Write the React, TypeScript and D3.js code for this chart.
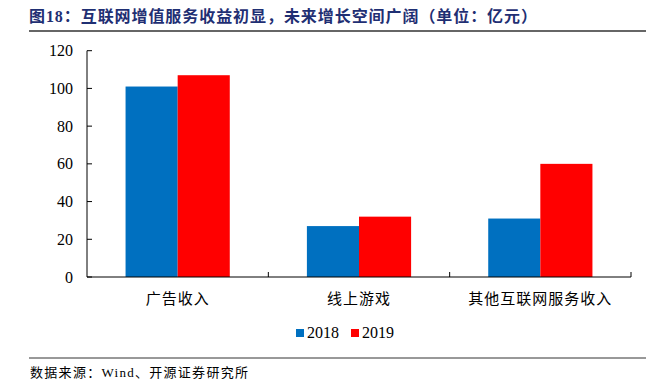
import React from "react";
import * as d3 from "d3";

const categories = ["广告收入", "线上游戏", "其他互联网服务收入"];
const series2018 = [101, 27, 31];
const series2019 = [107, 32, 60];
const seriesNames = ["2018", "2019"];
const seriesColors = ["#0070C0", "#FF0000"];
const yTicks = [0, 20, 40, 60, 80, 100, 120];
const title = "图18：互联网增值服务收益初显，未来增长空间广阔（单位：亿元）";
const source = "数据来源：Wind、开源证券研究所";

const W = 657;
const H = 389;
const serif = "'Liberation Serif', 'Times New Roman', serif";
const cjk = "'Liberation Serif', 'Noto Sans CJK SC', serif";

export default function App() {
  const x0 = 87, x1 = 631, yTop = 50.7, yBot = 277;
  const x = d3.scaleBand<string>().domain(categories).range([x0, x1]).paddingInner(0).paddingOuter(0);
  const y = d3.scaleLinear().domain([0, 120]).range([yBot, yTop]);
  const inner = d3.scaleBand<string>().domain(seriesNames).range([0, x.bandwidth()]).paddingInner(0).paddingOuter(0.74);
  const data = [series2018, series2019];

  return (
    <div style={{ position: "absolute", left: 0, top: 0 }}>
      <svg width={W} height={H} style={{ display: "block", background: "#fff" }}>
        <text x={29} y={22} fontFamily={cjk} fontSize={16} fontWeight="bold" fill="#1F2F73" textLength={508} lengthAdjust="spacing">
          {title}
        </text>
        <line x1={29} x2={646} y1={31} y2={31} stroke="#333" strokeWidth={1.3} />

        {data.map((vals, si) =>
          vals.map((v, ci) => (
            <rect
              key={`${si}-${ci}`}
              x={(x(categories[ci]) as number) + (inner(seriesNames[si]) as number)}
              y={y(v)}
              width={inner.bandwidth()}
              height={yBot - y(v)}
              fill={seriesColors[si]}
            />
          ))
        )}

        {/* y axis */}
        <line x1={x0} x2={x0} y1={yTop} y2={yBot} stroke="#000" strokeWidth={1} />
        {yTicks.map((t) => (
          <g key={t}>
            <line x1={x0} x2={x0 + 5} y1={y(t)} y2={y(t)} stroke="#000" />
            <text x={73} y={y(t)} dy="0.35em" textAnchor="end" fontFamily={serif} fontSize={16} fill="#000">
              {t}
            </text>
          </g>
        ))}

        {/* x axis */}
        <line x1={x0} x2={x1} y1={yBot} y2={yBot} stroke="#000" strokeWidth={1} />
        {categories.map((c) => (
          <g key={c}>
            <line x1={(x(c) as number) + x.bandwidth()} x2={(x(c) as number) + x.bandwidth()} y1={yBot} y2={yBot - 5} stroke="#000" />
            <text x={(x(c) as number) + x.bandwidth() / 2} y={304} textAnchor="middle" fontFamily={cjk} fontSize={15} letterSpacing={1} fill="#000">
              {c}
            </text>
          </g>
        ))}

        {/* legend */}
        {seriesNames.map((n, i) => (
          <g key={n} transform={`translate(${296 + i * 55},0)`}>
            <rect x={0} y={329} width={8} height={8} fill={seriesColors[i]} />
            <text x={11} y={337.5} fontFamily={serif} fontSize={16} fill="#000">
              {n}
            </text>
          </g>
        ))}

        <line x1={29} x2={646} y1={358} y2={358} stroke="#333" strokeWidth={1} />
        <text x={30} y={377} fontFamily={cjk} fontSize={13} fill="#000" textLength={218} lengthAdjust="spacing">
          {source}
        </text>
      </svg>
    </div>
  );
}
